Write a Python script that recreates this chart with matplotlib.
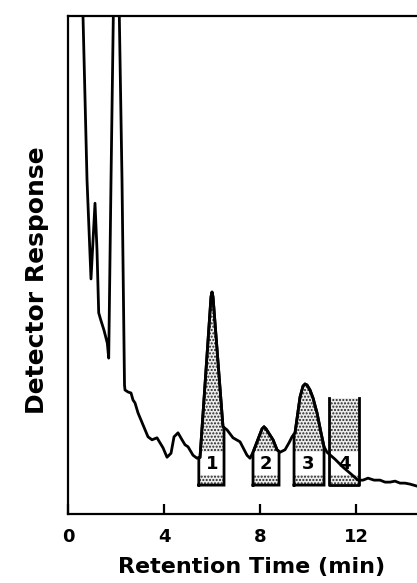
import numpy as np
import matplotlib
matplotlib.use("Agg")
import matplotlib.pyplot as plt
from matplotlib.patches import Polygon, Rectangle

plt.rcParams['font.family'] = ['DejaVu Sans']
plt.rcParams['font.weight'] = 'bold'
plt.rcParams['hatch.linewidth'] = 1.0

# chromatogram trace (retention time in min, response in % of full scale)
time = [0.604, 0.625, 0.792, 0.958, 1.125, 1.208, 1.279, 1.363, 1.5, 1.638, 1.696,
        1.792, 1.888, 1.917, 2.104, 2.138, 2.25, 2.354, 2.375, 2.5, 2.625, 2.708,
        2.792, 2.917, 3.125, 3.333, 3.5, 3.708, 3.958, 4.125, 4.292, 4.417, 4.583,
        4.75, 4.875, 5.0, 5.208, 5.375, 5.5, 5.958, 6.0, 6.042, 6.458, 6.625, 6.875,
        7.167, 7.458, 7.583, 7.708, 8.083, 8.167, 8.25, 8.542, 8.708, 8.833, 9.042,
        9.208, 9.333, 9.458, 9.667, 9.792, 9.875, 9.958, 10.083, 10.208, 10.375,
        10.542, 10.667, 10.792, 11.125, 11.458, 11.75, 12.083, 12.292, 12.5, 12.75,
        13.0, 13.208, 13.417, 13.625, 13.833, 14.04, 14.25, 14.54]
response = [104.4, 100.0, 67.1, 47.2, 62.4, 53.0, 40.4, 39.0, 36.9, 34.3, 31.3,
            67.1, 100.0, 104.4, 104.4, 100.0, 67.1, 25.9, 24.9, 24.5, 24.3, 22.9,
            22.3, 20.3, 17.9, 15.5, 14.9, 15.3, 13.3, 11.4, 12.2, 15.5, 16.3,
            14.9, 13.9, 13.5, 11.8, 11.2, 11.4, 43.6, 44.6, 43.6, 17.5, 16.9, 15.3,
            14.5, 11.8, 11.2, 12.4, 17.1, 17.5, 17.1, 14.9, 12.9, 12.4, 12.9,
            14.3, 15.5, 16.3, 23.5, 25.7, 26.1, 25.9, 24.9, 23.3, 20.3,
            16.3, 13.5, 12.4, 11.0, 9.4, 8.2, 6.8, 6.8, 7.2, 6.8,
            6.8, 6.4, 6.4, 6.6, 6.2, 6.2, 6.0, 5.6]

# integrated peaks 1-3 (start / end of window), peak 4 drawn as a box
peak_labels = ['1', '2', '3']
peak_start = [5.45, 7.708, 9.417]
peak_end = [6.5, 8.792, 10.667]
peak_label_x = [6.0, 8.25, 10.0]
box4_start = 10.875
box4_end = 12.125
box4_top = 23.3
box4_label_x = 11.5
base = 5.8

time = np.array(time)
response = np.array(response)

fig = plt.figure(figsize=(4.17, 5.83), dpi=100)
ax = fig.add_axes([68 / 417, 69 / 583, (417 - 68) / 417, 498 / 583])

band_lo, band_hi = 7.8, 12.4
stip = dict(facecolor='#ececec', edgecolor='#222222', hatch='.....', linewidth=0)


def add_shape(xs, ys, label, lx):
    poly = Polygon(np.column_stack([xs, ys]), closed=True, zorder=1, **stip)
    ax.add_patch(poly)
    band = Rectangle((min(xs) - 1, band_lo), max(xs) - min(xs) + 2, band_hi - band_lo,
                     facecolor='white', edgecolor='none', zorder=2)
    ax.add_patch(band)
    band.set_clip_path(poly)
    ax.text(lx, (band_lo + band_hi) / 2, label, ha='center', va='center',
            fontsize=13, fontweight='bold', zorder=5)


for lab, x0, x1, lx in zip(peak_labels, peak_start, peak_end, peak_label_x):
    inside = (time > x0) & (time < x1)
    xs = np.concatenate([[x0, x0], time[inside], [x1, x1]])
    ys = np.concatenate([[base, np.interp(x0, time, response)], response[inside],
                         [np.interp(x1, time, response), base]])
    add_shape(xs, ys, lab, lx)
    ax.plot(np.append(xs, xs[0]), np.append(ys, ys[0]), color='black', lw=2.0,
            solid_joinstyle='miter', zorder=3)

bx = [box4_start, box4_start, box4_end, box4_end]
by = [box4_top, base, base, box4_top]
add_shape(np.array(bx), np.array(by), '4', box4_label_x)
ax.plot(bx, by, color='black', lw=2.0, zorder=3)

ax.plot(time, response, color='black', lw=2.0, zorder=4)

ax.set_xlim(0, 14.54)
ax.set_ylim(0, 100)
ax.set_xticks([0, 4, 8, 12])
ax.set_xticklabels(['0', '4', '8', '12'], fontsize=13, fontweight='bold')
ax.set_yticks([])
ax.tick_params(axis='x', direction='in', length=7, width=1.6, pad=10)
for s in ['left', 'top', 'bottom']:
    ax.spines[s].set_linewidth(1.6)
ax.spines['right'].set_visible(False)

ax.set_xlabel('Retention Time (min)', fontsize=16, fontweight='bold')
ax.xaxis.set_label_coords(0.527, -0.086)
ax.set_ylabel('Detector Response', fontsize=18, fontweight='bold')
ax.yaxis.set_label_coords(-0.055, 0.47)

fig.savefig('out.png', dpi=100)
